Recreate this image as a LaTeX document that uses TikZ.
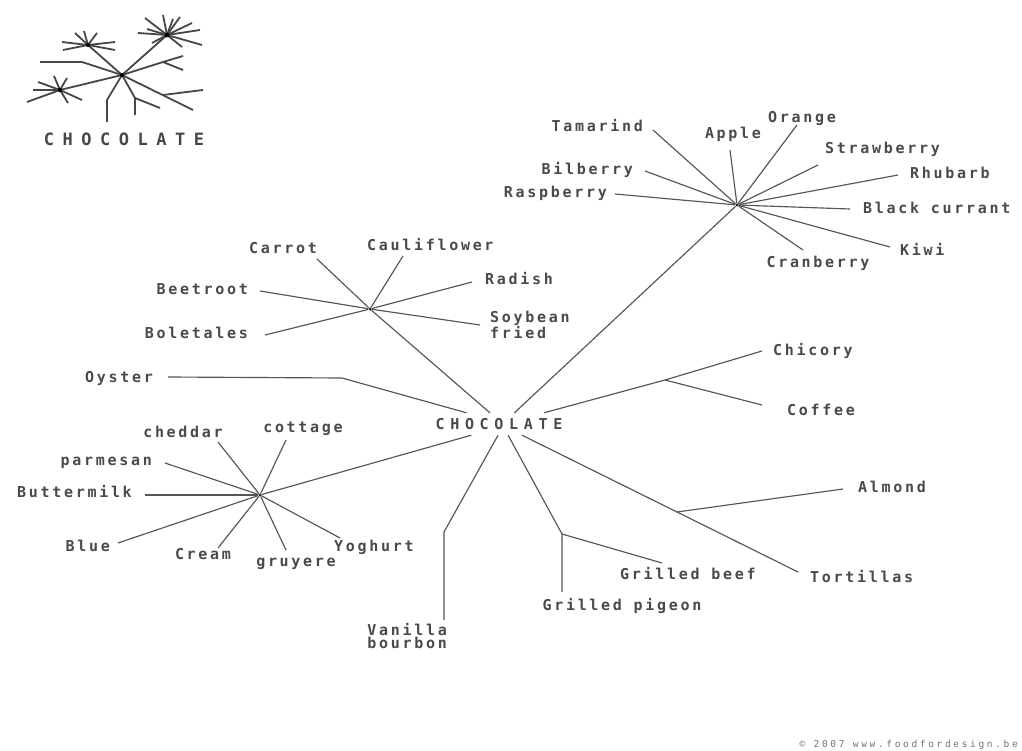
\documentclass[tikz,border=0pt]{standalone}
\usepackage{fontspec}
\newfontfamily\lblfont[LetterSpace=18]{DejaVu Sans Mono Bold}
\newfontfamily\hubfont[LetterSpace=38]{DejaVu Sans Mono Bold}
\newfontfamily\logofont[LetterSpace=50]{DejaVu Sans Mono Bold}
\newfontfamily\creditfont[LetterSpace=28]{DejaVu Sans Mono}
\definecolor{inkgray}{HTML}{4A4A4A}
\definecolor{linegray}{HTML}{555555}

\begin{document}
\begin{tikzpicture}[x=1pt, y=-1pt,
    lbl/.style={inner sep=0pt, text height=11pt, text depth=0pt, text=inkgray, font=\lblfont\fontsize{15}{13.5}\selectfont},
    lbltwo/.style={inner sep=0pt, text=inkgray, font=\lblfont\fontsize{15}{13.5}\selectfont},
    hub/.style={inner sep=0pt, minimum width=128, minimum height=22, text=inkgray, font=\hubfont\fontsize{15}{15}\selectfont},
    dot/.style={circle, fill=black!85, inner sep=0pt, minimum size=3.5pt},
    link/.style={draw=linegray, line width=1.15pt},
    ]
    \path[fill=white] (0,0) rectangle (1022,751);

    % Logo
    \begin{scope}[draw=black!72, line width=1.8pt]
        \coordinate (lc) at (122,75);
        \coordinate (ltr) at (167,35);
        \coordinate (ltl) at (88,45);
        \coordinate (lle) at (60,90);
        \draw (40,62) -- (82,62) -- (lc);
        \draw (lc) -- (ltr);
        \draw (lc) -- (ltl);
        \draw (lc) -- (lle);
        \draw (lc) -- (163,62) -- (183,56);
        \draw (163,62) -- (183,70);
        \draw (lc) -- (193,110);
        \draw (163,95) -- (203,90);
        \draw (lc) -- (107,100) -- (107,122);
        \draw (lc) -- (135,98) -- (135,115);
        \draw (135,98) -- (160,108);
        \foreach \dx/\dy in {-22/-17, -4/-20, 13/-18, -29/-2, 33/-5, 35/10, 15/12, 25/-12, -15/8, 6/-16, -20/-6}
            \draw (ltr) -- ++(\dx,\dy);
        \foreach \dx/\dy in {-13/-12, 9/-12, 27/-3, 27/5, -25/5, -26/-3, -4/-14}
            \draw (ltl) -- ++(\dx,\dy);
        \foreach \dx/\dy in {-22/-8, 7/-12, 22/10, 8/13, -33/12, -27/0, -6/-14}
            \draw (lle) -- ++(\dx,\dy);
        \fill[black] (ltr) circle (2.4) (lle) circle (2.2) (ltl) circle (2) (lc) circle (2);
    \end{scope}
    \node[text=black!72, inner sep=0pt, font=\logofont\fontsize{17}{17}\selectfont] (logotext) at (124,139) {CHOCOLATE};

    % Hubs
    \node[hub] (choc) at (499,424) {CHOCOLATE};
    \node[dot] (veg) at (370,309) {};
    \node[dot] (fruit) at (737,205) {};
    \node[dot] (cheese) at (260,495) {};
    \coordinate (oysterbend) at (342,378);
    \coordinate (cfork) at (665,380);
    \coordinate (afork) at (677,512);
    \coordinate (pbend) at (562,534);
    \coordinate (vbend) at (444,532);

    % Leaf ends
    \coordinate (oysterE) at (168,377);
    \coordinate (carrotE) at (317,259);
    \coordinate (caulE) at (403,256);
    \coordinate (radishE) at (472,282);
    \coordinate (soyE) at (480,325);
    \coordinate (beetE) at (260,291);
    \coordinate (boleE) at (265,335);
    \coordinate (tamE) at (653,130);
    \coordinate (appleE) at (730,150);
    \coordinate (orangeE) at (797,125);
    \coordinate (strawE) at (818,165);
    \coordinate (rhubE) at (898,175);
    \coordinate (blackE) at (850,209);
    \coordinate (kiwiE) at (890,247);
    \coordinate (cranE) at (803,250);
    \coordinate (bilE) at (645,171);
    \coordinate (raspE) at (615,194);
    \coordinate (chicE) at (762,351);
    \coordinate (coffE) at (762,405);
    \coordinate (almE) at (843,489);
    \coordinate (tortE) at (798,572);
    \coordinate (beefE) at (662,563);
    \coordinate (pigE) at (562,592);
    \coordinate (vanE) at (444,620);
    \coordinate (chedE) at (218,442);
    \coordinate (cottE) at (286,440);
    \coordinate (parmE) at (165,463);
    \coordinate (buttE) at (145,495);
    \coordinate (blueE) at (118,543);
    \coordinate (creamE) at (218,548);
    \coordinate (gruyE) at (286,550);
    \coordinate (yogE) at (340,538);

    % Labels
    \node[lbl, anchor=east] (oyster) at (153,377) {Oyster};
    \node[lbl] (carrot) at (283,248) {Carrot};
    \node[lbl, anchor=west] (cauli) at (367,245) {Cauliflower};
    \node[lbl, anchor=west] (radish) at (485,279) {Radish};
    \node[lbltwo, anchor=north west, align=left] (soy) at (490,311) {Soybean\\fried};
    \node[lbl, anchor=east] (beet) at (248,289) {Beetroot};
    \node[lbl, anchor=east] (bole) at (248,333) {Boletales};
    \node[lbl, anchor=east] (tam) at (643,126) {Tamarind};
    \node[lbl] (apple) at (733,133) {Apple};
    \node[lbl] (orange) at (802,117) {Orange};
    \node[lbl, anchor=west] (straw) at (825,148) {Strawberry};
    \node[lbl, anchor=west] (rhub) at (910,173) {Rhubarb};
    \node[lbl, anchor=west] (black) at (863,208) {Black currant};
    \node[lbl, anchor=west] (kiwi) at (900,250) {Kiwi};
    \node[lbl] (cran) at (818,262) {Cranberry};
    \node[lbl, anchor=east] (bil) at (633,169) {Bilberry};
    \node[lbl, anchor=east] (rasp) at (607,192) {Raspberry};
    \node[lbl, anchor=west] (chic) at (773,350) {Chicory};
    \node[lbl, anchor=west] (coff) at (787,410) {Coffee};
    \node[lbl, anchor=west] (alm) at (858,487) {Almond};
    \node[lbl, anchor=west] (tort) at (810,577) {Tortillas};
    \node[lbl, anchor=west] (beef) at (620,574) {Grilled beef};
    \node[lbl] (pigeon) at (622,605) {Grilled pigeon};
    \node[lbltwo, anchor=north east, align=right] (vanilla) at (447,623) {Vanilla\\bourbon};
    \node[lbl] (ched) at (183,432) {cheddar};
    \node[lbl] (cott) at (303,427) {cottage};
    \node[lbl, anchor=east] (parm) at (152,460) {parmesan};
    \node[lbl, anchor=east] (butt) at (132,492) {Buttermilk};
    \node[lbl, anchor=east] (blue) at (110,546) {Blue};
    \node[lbl] (cream) at (203,554) {Cream};
    \node[lbl] (gruy) at (296,561) {gruyere};
    \node[lbl, anchor=west] (yog) at (334,546) {Yoghurt};
    \node[text=black!55, inner sep=0pt, anchor=east, font=\creditfont\fontsize{9.5}{9.5}\selectfont] (credit) at (1018,745) {© 2007 www.foodfordesign.be};

    % Edges
    \draw[link] (choc.161) -- (oysterbend) -- (oysterE);
    \draw[link] (choc.129) -- (veg) -- (carrotE);
    \draw[link] (veg) -- (caulE);
    \draw[link] (veg) -- (radishE);
    \draw[link] (veg) -- (soyE);
    \draw[link] (veg) -- (beetE);
    \draw[link] (veg) -- (boleE);
    \draw[link] (choc.36) -- (fruit);
    \draw[link] (fruit) -- (tamE);
    \draw[link] (fruit) -- (appleE);
    \draw[link] (fruit) -- (orangeE);
    \draw[link] (fruit) -- (strawE);
    \draw[link] (fruit) -- (rhubE);
    \draw[link] (fruit) -- (blackE);
    \draw[link] (fruit) -- (kiwiE);
    \draw[link] (fruit) -- (cranE);
    \draw[link] (fruit) -- (bilE);
    \draw[link] (fruit) -- (raspE);
    \draw[link] (choc.14) -- (cfork) -- (chicE);
    \draw[link] (cfork) -- (coffE);
    \draw[link] (choc.334) -- (afork) -- (tortE);
    \draw[link] (afork) -- (almE);
    \draw[link] (choc.309) -- (pbend) -- (pigE);
    \draw[link] (pbend) -- (beefE);
    \draw[link] (choc.265) -- (vbend) -- (vanE);
    \draw[link] (choc.202) -- (cheese);
    \draw[link] (cheese) -- (chedE);
    \draw[link] (cheese) -- (cottE);
    \draw[link] (cheese) -- (parmE);
    \draw[link] (cheese) -- (buttE);
    \draw[link] (cheese) -- (blueE);
    \draw[link] (cheese) -- (creamE);
    \draw[link] (cheese) -- (gruyE);
    \draw[link] (cheese) -- (yogE);
\end{tikzpicture}
\end{document}
